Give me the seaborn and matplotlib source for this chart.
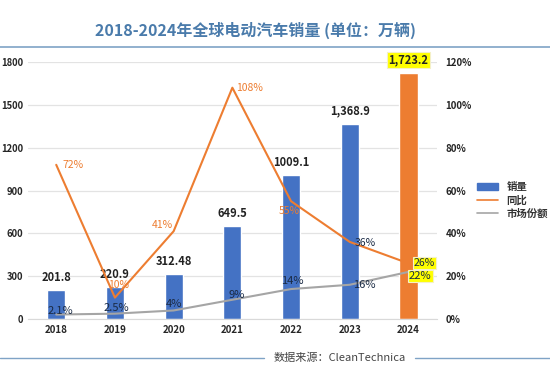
import matplotlib
matplotlib.use("Agg")
import numpy as np
import pandas as pd
import seaborn as sns
from matplotlib import pyplot as plt
from matplotlib.lines import Line2D
from matplotlib.patches import Patch

years = ["2018", "2019", "2020", "2021", "2022", "2023", "2024"]
sales = [201.8, 220.9, 312.48, 649.5, 1009.1, 1368.9, 1723.2]
sales_labels = ["201.8", "220.9", "312.48", "649.5", "1009.1", "1,368.9", "1,723.2"]
yoy = [72, 10, 41, 108, 55, 36, 26]
share = [2.1, 2.5, 4, 9, 14, 16, 22]
left_ticks = [0, 300, 600, 900, 1200, 1500, 1800]
right_ticks = [0, 20, 40, 60, 80, 100, 120]

BLUE = "#4472c4"
ORANGE = "#ed7d31"
GRAY = "#a5a5a5"
DARK = "#1a2a44"
TITLE_BLUE = "#4a7bab"

sns.set_style("white")
plt.rcParams["font.family"] = ["Noto Sans CJK SC", "DejaVu Sans"]

df = pd.DataFrame({"year": years, "sales": sales, "yoy": yoy, "share": share})
bar_colors = [BLUE] * 6 + [ORANGE]

fig = plt.figure(figsize=(5.5, 3.78), dpi=100)
ax = fig.add_axes([0.051, 0.156, 0.744, 0.68])

sns.barplot(data=df, x="year", y="sales", hue="year", palette=bar_colors,
            width=0.31, legend=False, ax=ax, saturation=1)
ax.set_ylim(0, 1800)
ax.set_yticks(left_ticks)
ax.set_xlim(-0.48, 6.49)
ax.yaxis.grid(True, color="#e3e3e3", lw=0.9)
ax.set_axisbelow(True)
for s in ax.spines.values():
    s.set_visible(False)
ax.spines["bottom"].set_visible(True)
ax.spines["bottom"].set_color("#d9d9d9")
ax.set_xlabel("")
ax.set_ylabel("")
ax.tick_params(axis="x", length=0, labelsize=7, pad=4)
ax.tick_params(axis="y", length=0, labelsize=6.8, pad=3.5)
for t in ax.get_xticklabels() + ax.get_yticklabels():
    t.set_fontweight("bold")

hl = dict(boxstyle="square,pad=0.1", fc="#ffff00", ec="#f4f0c8", lw=0.8)

for i, (v, lab) in enumerate(zip(sales, sales_labels)):
    ax.text(i, v + 45, lab, ha="center", va="bottom", fontsize=8,
            fontweight="bold", color="#222222", bbox=hl if i == 6 else None)

ax2 = ax.twinx()
ax2.set_ylim(0, 120)
ax2.set_yticks(right_ticks)
ax2.set_yticklabels([f"{t}%" for t in right_ticks])
for s in ax2.spines.values():
    s.set_visible(False)
ax2.tick_params(axis="y", length=0, labelsize=7, pad=6)
for t in ax2.get_yticklabels():
    t.set_fontweight("bold")

xpos = np.arange(len(years))
sns.lineplot(x=xpos, y=yoy, ax=ax2, color=ORANGE, lw=1.5)
sns.lineplot(x=xpos, y=share, ax=ax2, color=GRAY, lw=1.5)
ax2.set_xlim(-0.48, 6.49)
ax2.set_ylabel("")

# label offsets (x in categories, y in percent points)
yoy_off = [(0.29, 0), (0.07, 6), (-0.19, 3), (0.3, 0), (-0.03, -4.5), (0.27, -0.5), (0.27, 0)]
yoy_col = [ORANGE] * 5 + [DARK, DARK]
for i, (v, (dx, dy)) in enumerate(zip(yoy, yoy_off)):
    ax2.text(i + dx, v + dy, f"{v}%", ha="center", va="center",
             fontsize=7.5, color=yoy_col[i], bbox=hl if i == 6 else None)

share_off = [(0.07, 1.6), (0.03, 2.6), (0.0, 3), (0.07, 2.2), (0.03, 3.7), (0.25, 0), (0.2, -2)]
for i, (v, (dx, dy)) in enumerate(zip(share, share_off)):
    ax2.text(i + dx, v + dy, f"{v:g}%", ha="center", va="center",
             fontsize=8, color=DARK, bbox=hl if i == 6 else None)

handles = [Patch(color=BLUE, label="销量"),
           Line2D([], [], color=ORANGE, lw=1.2, label="同比"),
           Line2D([], [], color=GRAY, lw=1.2, label="市场份额")]
leg = fig.legend(handles=handles, loc="center left", bbox_to_anchor=(0.86, 0.47),
                 frameon=False, fontsize=7.5, handlelength=2.0, handleheight=0.7,
                 labelspacing=0.3, borderaxespad=0)
for t in leg.get_texts():
    t.set_fontweight("bold")
    t.set_color("#333333")

fig.text(0.465, 0.92, "2018-2024年全球电动汽车销量 (单位：万辆)", ha="center", va="center",
         fontsize=11.5, fontweight="bold", color=TITLE_BLUE)
fig.add_artist(Line2D([0, 1], [0.876, 0.876], color="#7fa3c6", lw=1.2))

fig.add_artist(Line2D([0, 0.48], [0.053, 0.053], color="#7fa3c6", lw=1.0))
fig.add_artist(Line2D([0.755, 1], [0.053, 0.053], color="#7fa3c6", lw=1.0))
fig.text(0.617, 0.053, "数据来源：CleanTechnica", ha="center", va="center",
         fontsize=8, color="#444444")

fig.savefig("out.png", dpi=100)
